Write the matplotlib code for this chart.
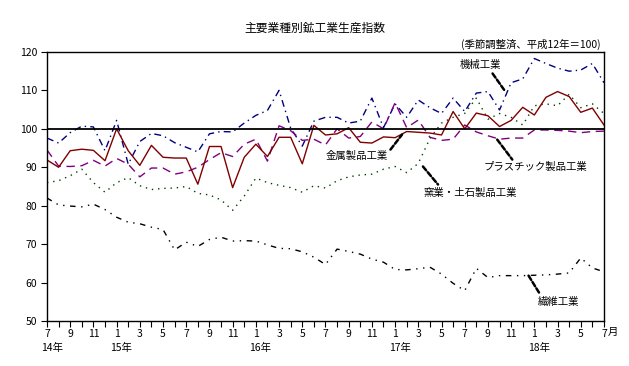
import numpy as np
import matplotlib
matplotlib.use('Agg')
import matplotlib.pyplot as plt

plt.rcParams['font.family'] = ['Noto Sans CJK JP', 'DejaVu Sans']

# monthly index, 14年7月 .. 18年7月 (49 months)
start_year = 14
start_month = 7

machinery = [97.6, 96.3, 99.0, 100.7, 100.5, 94.3, 102.2, 90.8, 96.7, 98.8,
             98.2, 96.4, 95.2, 94.0, 98.7, 99.3, 99.2, 101.5, 103.5, 104.8,
             110.0, 100.2, 95.5, 102.0, 103.0, 103.0, 101.5, 102.0, 108.0, 100.3,
             106.5, 103.0, 107.5, 105.5, 104.0, 108.0, 104.5, 109.3, 109.7, 104.9,
             112.0, 113.0, 118.3, 117.0, 115.8, 115.0, 115.3, 117.0, 112.0]
metal = [91.9, 90.0, 94.3, 94.7, 94.4, 91.7, 100.0, 94.3, 90.5, 95.7,
         92.6, 92.4, 92.4, 85.6, 95.4, 95.4, 84.7, 92.6, 96.0, 92.8,
         97.8, 97.8, 90.9, 100.9, 98.4, 98.7, 100.3, 96.5, 96.3, 97.9,
         97.7, 99.3, 99.1, 98.9, 98.4, 104.5, 100.0, 104.1, 103.4, 100.6,
         102.2, 105.6, 103.6, 108.2, 109.7, 108.4, 104.3, 105.4, 101.0]
plastic = [94.5, 90.3, 90.2, 90.4, 91.8, 90.3, 92.3, 90.8, 87.5, 89.8,
           89.8, 88.2, 88.8, 90.0, 92.0, 93.8, 92.8, 96.0, 97.3, 91.6,
           100.8, 99.5, 97.0, 97.3, 95.8, 100.0, 97.6, 98.0, 101.8, 100.0,
           106.8, 100.3, 102.3, 97.8, 97.0, 97.3, 101.0, 99.2, 98.2, 97.3,
           97.6, 97.6, 99.7, 99.7, 99.6, 99.4, 99.0, 99.3, 99.4]
ceramics = [86.0, 86.5, 87.8, 89.5, 86.0, 83.5, 86.0, 87.3, 85.2, 84.2,
            84.5, 84.6, 85.0, 83.2, 82.8, 81.5, 78.8, 82.5, 87.2, 86.0,
            85.3, 84.7, 83.5, 85.2, 84.6, 86.5, 87.5, 88.0, 88.2, 89.5,
            90.2, 88.6, 91.0, 97.5, 101.5, 103.0, 104.0, 108.0, 102.5, 104.0,
            103.0, 101.0, 106.0, 106.5, 106.0, 109.0, 105.5, 106.5, 104.0]
textile = [82.0, 80.2, 79.9, 79.7, 80.4, 79.0, 77.0, 75.7, 75.3, 74.4,
           73.8, 68.5, 70.5, 69.4, 71.2, 71.8, 70.8, 70.9, 70.8, 69.8,
           68.9, 68.8, 68.0, 66.6, 64.7, 68.7, 68.1, 67.4, 66.1, 65.3,
           63.4, 63.3, 63.6, 64.0, 62.2, 59.8, 57.9, 63.7, 61.3, 61.8,
           61.8, 61.8, 61.9, 62.0, 62.2, 62.5, 66.4, 63.8, 62.8]

y_ticks = [50, 60, 70, 80, 90, 100, 110, 120]


def main():
    n = len(metal)
    x = np.arange(n)
    fig = plt.figure(figsize=(6.29, 3.66), dpi=100)
    ax = fig.add_axes([0.0747, 0.123, 0.8855, 0.735])

    ax.plot(x, machinery, color='#000080', lw=1.0, ls=(0, (5, 3, 1, 3)))
    ax.plot(x, plastic, color='#800080', lw=1.0, ls=(0, (6, 4)))
    ax.plot(x, ceramics, color='#004000', lw=1.0, ls=(0, (1, 3.5)))
    ax.plot(x, textile, color='black', lw=1.0, ls=(0, (4, 4, 1, 4, 1, 4)))
    ax.plot(x, metal, color='#800000', lw=1.0)
    ax.axhline(100, color='black', lw=1.3)

    ax.set_xlim(0, n - 1)
    ax.set_ylim(50, 120)
    ax.set_yticks(y_ticks)
    ax.tick_params(axis='y', labelsize=7.5, length=4, pad=3)
    ax.set_xticks(x)
    labels = []
    for i in x:
        m = (start_month + i - 1) % 12 + 1
        labels.append(str(m) if i % 2 == 0 else '')
    ax.set_xticklabels(labels)
    ax.tick_params(axis='x', labelsize=7.5, length=4, pad=2)
    for sp in ax.spines.values():
        sp.set_linewidth(1.0)

    # year labels under January (and the first month)
    for i in x:
        m = (start_month + i - 1) % 12 + 1
        if i == 0 or m == 1:
            yr = start_year + (start_month + i - 1) // 12
            ax.text(i + 0.4, -0.08, '%d年' % yr, transform=ax.get_xaxis_transform(),
                    ha='center', va='top', fontsize=7.5)
    ax.text(n - 1 + 0.35, -0.022, '月', transform=ax.get_xaxis_transform(),
            ha='left', va='top', fontsize=7.5)

    fig.text(0.5, 0.923, '主要業種別鉱工業生産指数', ha='center', va='center', fontsize=8.5)
    fig.text(0.955, 0.878, '(季節調整済、平成12年＝100)', ha='right', va='center', fontsize=7.5)

    # label, pointer start, pointer end, text centre (data units)
    arrow = dict(arrowstyle='-', color='black', lw=1.8, ls=(0, (2, 1)), shrinkA=0, shrinkB=0)
    notes = [('機械工業', (38.4, 114.4), (39.5, 109.7), (37.4, 116.6)),
             ('金属製品工業', (29.6, 94.6), (30.6, 98.5), (26.7, 93.0)),
             ('プラスチック製品工業', (38.8, 97.2), (40.1, 92.0), (42.1, 90.2)),
             ('窯業・土石製品工業', (32.4, 90.2), (33.7, 85.5), (36.5, 83.2)),
             ('繊維工業', (41.5, 61.8), (42.4, 57.4), (44.1, 55.0))]
    for name, p0, p1, tp in notes:
        ax.annotate('', xy=p1, xytext=p0, arrowprops=arrow)
        ax.text(tp[0], tp[1], name, ha='center', va='center', fontsize=7.5)

    fig.savefig('out.png', dpi=100)


if __name__ == '__main__':
    main()
